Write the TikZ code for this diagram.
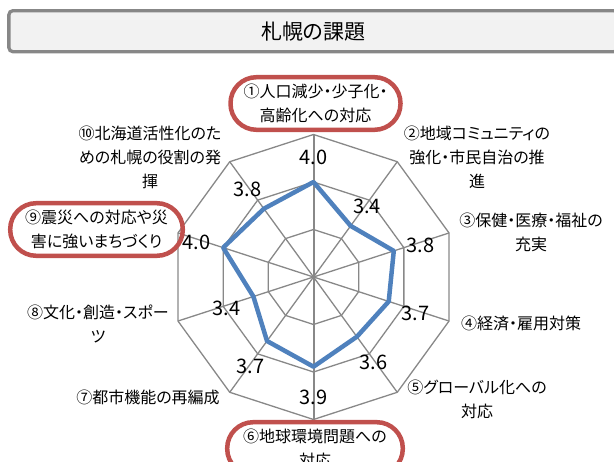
\documentclass[tikz,border=0pt]{standalone}
\usepackage{fontspec}
\setmainfont{Noto Sans CJK JP}[RawFeature=+palt]
\usepackage{tikz}

\definecolor{gridgray}{HTML}{888888}
\definecolor{seriesblue}{HTML}{4F81BD}
\definecolor{markred}{HTML}{C0504D}
\definecolor{titleline}{HTML}{878787}
\definecolor{titlefill}{HTML}{F2F2F2}

\begin{document}
\begin{tikzpicture}[x=1bp, y=-1bp,
  gridline/.style={draw=gridgray, line width=1.3bp},
  axisline/.style={draw=gridgray, line width=2bp},
  series/.style={draw=seriesblue, line width=4.5bp, line join=round},
  category/.style={align=center, font=\fontsize{16bp}{24bp}\selectfont, inner sep=0pt},
  marked/.style={draw=markred, line width=4.5bp, rounded corners=26bp, minimum height=52.6bp},
  valuelabel/.style={font=\fontsize{20bp}{24bp}\selectfont, inner sep=0pt}]
\useasboundingbox (0,0) rectangle (614,462);

\node[draw=titleline, fill=titlefill, line width=3.3bp, rounded corners=4bp,
  minimum width=609bp, minimum height=41bp, font=\fontsize{21bp}{24bp}\selectfont]
  (title) at (313.4,31.2) {札幌の課題};

\begin{scope}[shift={(313.5,277)}]
\coordinate (center) at (0,0);
% grid
\foreach \r in {47.5,95,142.5}
  \draw[gridline] (-90:\r) \foreach \k in {1,...,9} {-- ({-90+36*\k}:\r)} -- cycle;
\foreach \k in {1,...,10}
  \coordinate (axis\k) at ({-126+36*\k}:142.5);
\foreach \k in {2,3,4,5,7,8,9,10}
  \draw[gridline] (center) -- (axis\k);
\draw[axisline] (axis1) -- (axis6);
% data
\foreach \v [count=\k] in {4.0,3.4,3.8,3.7,3.6,3.9,3.7,3.4,4.0,3.8} {
  \coordinate (pt\k) at ({-126+36*\k}:{95+53*(\v-4)});
  \node[valuelabel, yshift=-3bp] (val\k) at ({-126+36*\k}:{123+53*(\v-4)}) {\v};
}
\draw[series] (pt1) \foreach \k in {2,...,10} {-- (pt\k)} -- cycle;
\end{scope}

\node[category, marked, minimum width=170bp] (cat1) at (315.5,103.5) {①人口減少・少子化・\\高齢化への対応};
\node[category] (cat2) at (477,157) {②地域コミュニティの\\強化・市民自治の推\\進};
\node[category] (cat3) at (531,232.5) {③保健・医療・福祉の\\充実};
\node[category] (cat4) at (521,323) {④経済・雇用対策};
\node[category] (cat5) at (477,399) {⑤グローバル化への\\対応};
\node[category, marked, minimum width=175.6bp] (cat6) at (315,448.5) {⑥地球環境問題への\\対応};
\node[category] (cat7) at (148,397) {⑦都市機能の再編成};
\node[category] (cat8) at (98,323.5) {⑧文化・創造・スポー\\ツ};
\node[category, marked, minimum width=172.6bp] (cat9) at (96.5,229.5) {⑨震災への対応や災\\害に強いまちづくり};
\node[category] (cat10) at (150,157.5) {⑩北海道活性化のた\\めの札幌の役割の発\\揮};
\end{tikzpicture}
\end{document}
